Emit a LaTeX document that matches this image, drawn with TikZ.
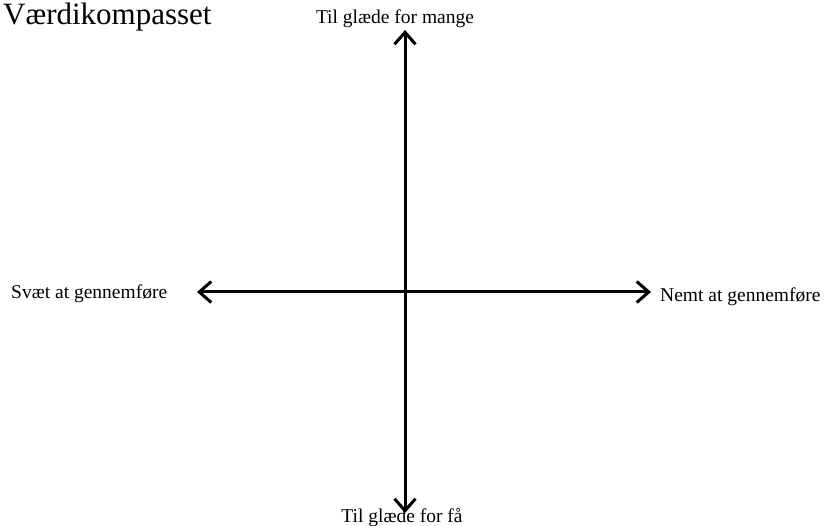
\documentclass[tikz,border=0pt]{standalone}
\usepackage{fontspec}
\setmainfont{Liberation Serif}
\usetikzlibrary{arrows.meta}
\tikzset{
  axis/.style={line width=3pt, black, {Straight Barb[length=12pt,width=21pt]}-{Straight Barb[length=12pt,width=21pt]}},
  lbl/.style={inner sep=0pt, font=\fontsize{19.5pt}{22pt}\selectfont},
  ttl/.style={inner sep=0pt, font=\fontsize{31pt}{36pt}\selectfont}
}
\begin{document}
\begin{tikzpicture}[x=1pt,y=-1pt]
\useasboundingbox (0,0) rectangle (825,526);
\node[ttl, anchor=base west] (title) at (3,25) {Værdikompasset};
\node[lbl, anchor=base] (mange) at (395,24) {Til glæde for mange};
\node[lbl, anchor=base] (faa) at (402,522) {Til glæde for få};
\node[lbl, anchor=base west] (svaet) at (11,299) {Svæt at gennemføre};
\node[lbl, anchor=base west] (nemt) at (660,302) {Nemt at gennemføre};
\coordinate (top) at (405,30);
\coordinate (bot) at (405,513);
\coordinate (left) at (197,292);
\coordinate (right) at (651,292);
\draw[axis] (bot) -- (top);
\draw[axis] (left) -- (right);
\end{tikzpicture}
\end{document}
